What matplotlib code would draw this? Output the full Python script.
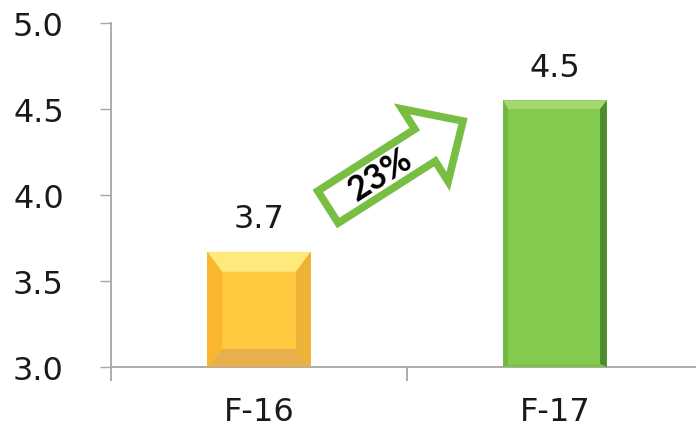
import numpy as np
import matplotlib.pyplot as plt
import matplotlib.patches as mpatches
import matplotlib.transforms as mtransforms

# datos
categorias = ['F-16', 'F-17']
valores = [3.67, 4.55]
etiquetas = ['3.7', '4.5']
crecimiento = '23%'

fig = plt.figure(figsize=(6.96, 4.39), dpi=100)
ax = fig.add_axes([111 / 696, 71 / 439, 585 / 696, 344 / 439])

x = np.arange(len(categorias))
ancho = 0.35
barras = ax.bar(x, [v - 3.0 for v in valores], bottom=3.0, width=ancho,
                color=['#FFC63C', '#82CA4D'], zorder=2)

ax.set_xlim(-0.5, -0.5 + 585 / 296)
ax.set_ylim(3.0, 5.0)
ax.set_yticks([3.0, 3.5, 4.0, 4.5, 5.0])
ax.set_yticklabels(['3.0', '3.5', '4.0', '4.5', '5.0'])
ax.set_xticks(x)
ax.set_xticklabels(categorias)
ax.set_xticks([-0.5, 0.5], minor=True)

gris = '#A6A6A6'
for s in ['top', 'right']:
    ax.spines[s].set_visible(False)
for s in ['left', 'bottom']:
    ax.spines[s].set_color(gris)
    ax.spines[s].set_linewidth(1.3)
ax.tick_params(axis='y', direction='out', length=8, width=1.0, color=gris,
               labelsize=23, pad=26, labelcolor='#1a1a1a')
ax.tick_params(axis='x', which='major', length=0, labelsize=23, pad=21,
               labelcolor='#1a1a1a')
ax.tick_params(axis='x', which='minor', direction='out', length=10, width=1.3,
               color=gris)

# biselado de las barras (en pixeles)
ident = mtransforms.IdentityTransform()


def biselar(barra, inset, colores):
    x0, y0 = ax.transData.transform((barra.get_x(), barra.get_y()))
    x1, y1 = ax.transData.transform((barra.get_x() + barra.get_width(),
                                     barra.get_y() + barra.get_height()))
    it, il, ir, ib = inset
    xi0, xi1 = x0 + il, x1 - ir
    yi0, yi1 = y0 + ib, y1 - it
    caras = [
        [(x0, y1), (x1, y1), (xi1, yi1), (xi0, yi1)],   # arriba
        [(x0, y0), (xi0, yi0), (xi0, yi1), (x0, y1)],   # izquierda
        [(x1, y0), (x1, y1), (xi1, yi1), (xi1, yi0)],   # derecha
        [(x0, y0), (x1, y0), (xi1, yi0), (xi0, yi0)],   # abajo
        [(xi0, yi0), (xi1, yi0), (xi1, yi1), (xi0, yi1)],  # centro
    ]
    for cara, c in zip(caras, colores):
        fig.patches.append(mpatches.Polygon(cara, closed=True, facecolor=c,
                                            edgecolor='none', transform=ident,
                                            zorder=3))


fig.canvas.draw()
biselar(barras[0], (20, 15, 15, 18),
        ['#FEE97C', '#FAB62F', '#EDB236', '#E8B04C', '#FFC83E'])
biselar(barras[1], (9, 5, 7, 3),
        ['#A3D873', '#72B742', '#4E8B2C', '#7CC24A', '#83CB4E'])

# etiquetas de datos
for xi, v, t in zip(x, valores, etiquetas):
    ax.annotate(t, (xi, v), xytext=(0, 33), textcoords='offset pixels',
                ha='center', va='center', fontsize=23, color='#1a1a1a')

# flecha de crecimiento
cola = np.array([328.0, 231.0])
punta = np.array([463.0, 317.0])
d = punta - cola
flecha = mpatches.FancyArrow(cola[0], cola[1], d[0], d[1], width=38,
                             head_width=86, head_length=45,
                             length_includes_head=True, transform=ident,
                             facecolor='white', edgecolor='#77BE43',
                             linewidth=5.5, joinstyle='miter', zorder=5)
fig.patches.append(flecha)
ang = np.degrees(np.arctan2(d[1], d[0]))
u = d / np.hypot(*d)
pos = cola + u * 62
fig.text(pos[0], pos[1], crecimiento, transform=ident, rotation=ang,
         rotation_mode='anchor', ha='center', va='center', fontsize=25,
         fontweight='bold', family='Lato', color='black', zorder=6)

fig.savefig('out.png', dpi=100)
